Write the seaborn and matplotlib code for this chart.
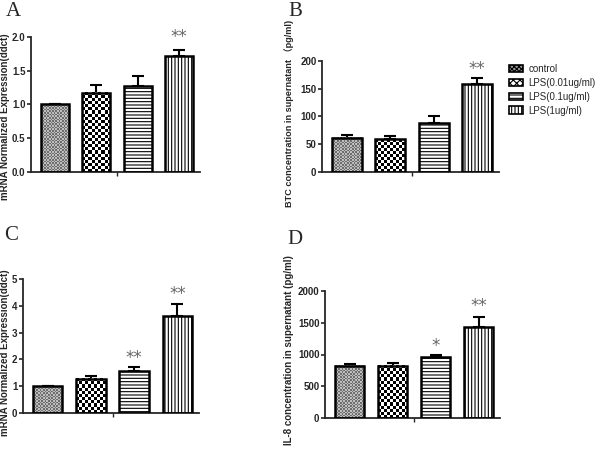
import numpy as np
import pandas as pd
import matplotlib
matplotlib.use('Agg')
import matplotlib.pyplot as plt
from matplotlib.patches import Patch, Rectangle
from matplotlib.colors import ListedColormap
import seaborn as sns

sns.set_style("ticks")
plt.rcParams['font.family'] = ['Liberation Sans', 'Noto Sans CJK SC', 'DejaVu Sans']
plt.rcParams['hatch.linewidth'] = 0.8

groups = ['control', 'LPS(0.01ug/ml)', 'LPS(0.1ug/ml)', 'LPS(1ug/ml)']

# panel A: mRNA, top row
a_mean = [1.0, 1.175, 1.28, 1.725]
a_err = [0.0, 0.11, 0.14, 0.075]
a_stars = ['', '', '', '**']
a_star_y = [0, 0, 0, 2.0]

# panel B: BTC protein
b_mean = [62, 59, 88, 158]
b_err = [5, 6, 12, 12]
b_stars = ['', '', '', '**']
b_star_y = [0, 0, 0, 186]

# panel C: mRNA, bottom row
c_mean = [1.0, 1.275, 1.55, 3.625]
c_err = [0.0, 0.12, 0.15, 0.45]
c_stars = ['', '', '**', '**']
c_star_y = [0, 0, 2.05, 4.43]

# panel D: IL-8 protein
d_mean = [820, 825, 965, 1440]
d_err = [38, 42, 28, 148]
d_stars = ['', '', '*', '**']
d_star_y = [0, 0, 1140, 1760]

# fill styles: checker textures for the first two groups, line hatches for the rest
hatches = ['xxxxxxx', 'xxxxx', '-----', '|||||']
checker = [('#6e6e6e', '#bdbdbd', 1.6), ('black', 'white', 3.0), None, None]
face_colors = ['#9a9a9a', 'white', 'white', 'white']

W, H = 600, 459
fig = plt.figure(figsize=(6, 4.59), dpi=100)


def fill_checker(ax, p, c1, c2, cell):
    (x0, y0), (x1, y1) = ax.transData.transform([(p.get_x(), p.get_y()),
                                                (p.get_x() + p.get_width(), p.get_y() + p.get_height())])
    nx = max(1, int(round((x1 - x0) / cell)))
    ny = max(1, int(round((y1 - y0) / cell)))
    grid = (np.add.outer(np.arange(ny), np.arange(nx)) % 2).astype(float)
    ax.imshow(grid, cmap=ListedColormap([c1, c2]), interpolation='nearest', aspect='auto',
              extent=(p.get_x(), p.get_x() + p.get_width(), p.get_y(), p.get_y() + p.get_height()),
              origin='lower', zorder=2)


def panel(box, mean, err, stars, star_y, ylim, yticks, ticklabels, ylabel, lab_xy, lab_size=7):
    left, right, top, bottom = box
    ax = fig.add_axes([left / W, 1 - bottom / H, (right - left) / W, (bottom - top) / H])
    df = pd.DataFrame({'group': groups, 'value': mean})
    sns.barplot(data=df, x='group', y='value', hue='group', palette=face_colors,
                legend=False, width=0.68, errorbar=None, saturation=1, ax=ax)
    ax.errorbar(range(4), mean, yerr=[np.zeros(4), err], fmt='none', ecolor='black',
                elinewidth=1.5, capsize=4, capthick=1.5, zorder=1)
    ax.set_xlim(-0.57, 3.5)
    ax.set_ylim(*ylim)
    for p, h, ck in zip(list(ax.patches), hatches, checker):
        p.set_linewidth(0)
        p.set_zorder(2)
        if ck is None:
            p.set_hatch(h)
            p.set_edgecolor('black')
        else:
            fill_checker(ax, p, *ck)
        ax.add_patch(Rectangle((p.get_x(), p.get_y()), p.get_width(), p.get_height(),
                               fill=False, edgecolor='black', linewidth=1.8, zorder=3))
    ax.set_xlim(-0.57, 3.5)
    ax.set_ylim(*ylim)
    for i, (s, y) in enumerate(zip(stars, star_y)):
        if s:
            ax.text(i, y, s, ha='center', va='center', fontsize=12, color='#666666',
                    family='DejaVu Sans')
    ax.set_yticks(yticks)
    ax.set_yticklabels(ticklabels, fontsize=7, fontweight='bold')
    ax.set_xticks([1.5])
    ax.set_xticklabels([''])
    ax.set_xlabel('')
    ax.set_ylabel(ylabel, fontsize=lab_size, fontweight='bold')
    ax.yaxis.set_label_coords(*lab_xy)
    ax.tick_params(axis='y', length=3, width=1.2, pad=1)
    ax.tick_params(axis='x', length=3, width=1)
    sns.despine(ax=ax)
    for s in ['left', 'bottom']:
        ax.spines[s].set_linewidth(1.3)
    return ax


panel((31, 200, 37, 172), a_mean, a_err, a_stars, a_star_y, (0, 2),
      [0, 0.5, 1, 1.5, 2], ['0.0', '0.5', '1.0', '1.5', '2.0'],
      'mRNA Normalized Expression(ddct)', (-0.125, 0.41))
panel((322, 499, 61, 172), b_mean, b_err, b_stars, b_star_y, (0, 200),
      [0, 50, 100, 150, 200], ['0', '50', '100', '150', '200'],
      'BTC concentration in supernatant （pg/ml)', (-0.16, 0.53), lab_size=6.6)
panel((23, 199, 279, 413), c_mean, c_err, c_stars, c_star_y, (0, 5),
      [0, 1, 2, 3, 4, 5], ['0', '1', '2', '3', '4', '5'],
      'mRNA Normalized Expression(ddct)', (-0.075, 0.45))
panel((325, 500, 291, 418), d_mean, d_err, d_stars, d_star_y, (0, 2000),
      [0, 500, 1000, 1500, 2000], ['0', '500', '1000', '1500', '2000'],
      'IL-8 concentration in supernatant (pg/ml)', (-0.18, 0.535))

for letter, x, y in [('A', 13, 12), ('B', 295, 12), ('C', 11, 236), ('D', 295, 240)]:
    fig.text(x / W, 1 - y / H, letter, fontsize=15, family='Liberation Serif',
             ha='center', va='center')

handles = [Patch(facecolor=fc, edgecolor='black', hatch=h, linewidth=1.2)
           for fc, h in zip(face_colors, hatches)]
fig.legend(handles, groups, loc='upper left', bbox_to_anchor=(505 / W, 1 - 60 / H),
           frameon=False, fontsize=7, handlelength=1.4, handleheight=0.8,
           labelspacing=0.4, handletextpad=0.6, borderaxespad=0)

fig.savefig('out.png', dpi=100)
